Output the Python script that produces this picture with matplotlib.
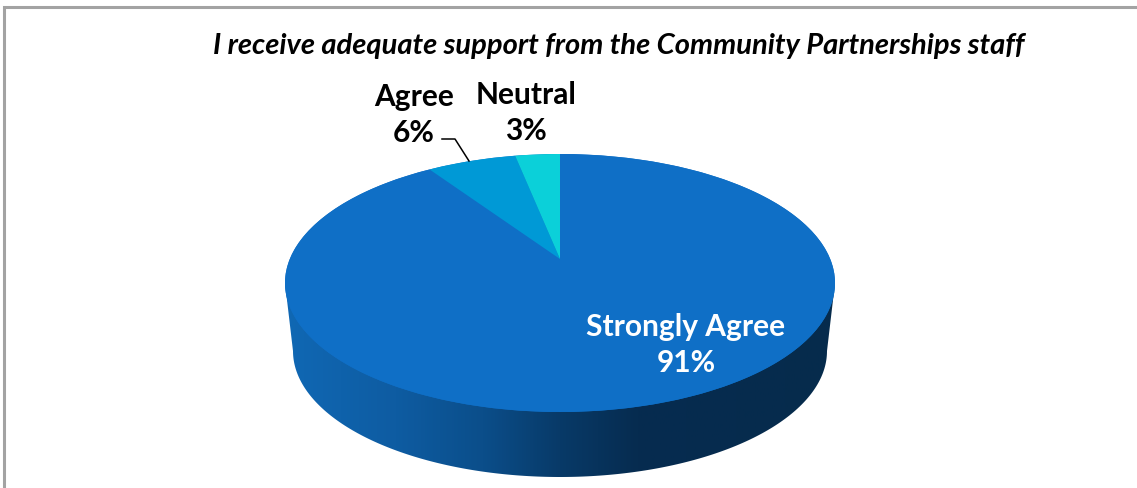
import numpy as np
import matplotlib.pyplot as plt
from matplotlib.colors import LinearSegmentedColormap
from matplotlib.patches import Ellipse, PathPatch, Polygon
from matplotlib.path import Path

title = 'I receive adequate support from the Community Partnerships staff'
categories = ['Strongly Agree', 'Agree', 'Neutral']
percents = [91, 6, 3]
colors = ['#0F6FC6', '#0099D6', '#0BD0D9']

# geometry of the tilted disc, in pixels
cx, cy, rx, ry = 560, 284, 275, 129
base_cy, base_rx, base_ry = 352, 267, 126
apex_y = 260
tilt = 0.14

plt.rcParams['font.family'] = ['Lato', 'DejaVu Sans']

fig = plt.figure(figsize=(11.37, 4.89), dpi=100)
ax = fig.add_axes([0, 0, 1, 1])


def project(angle):
    # circle angle (clockwise from 12 o'clock) to pixel position, with perspective
    x, y = np.sin(angle), np.cos(angle)
    w = 1 + tilt * y
    u = x * np.sqrt(1 - tilt ** 2) / w
    v = (y + tilt) / w
    return cx + rx * u, cy - ry * v


# side wall with a horizontal gradient
t = np.linspace(0, np.pi, 200)
wall_pts = [(cx - rx, cy)]
wall_pts += list(zip(cx - base_rx * np.cos(t), base_cy + base_ry * np.sin(t)))
wall_pts += [(cx + rx, cy)]
wall_path = Path(wall_pts + [wall_pts[0]], closed=True)
wall_cmap = LinearSegmentedColormap.from_list('wall', [
    (0.0, '#1068B4'), (0.2, '#0E5CA2'), (0.36, '#0B4E8A'),
    (0.5, '#083A68'), (0.64, '#062C50'), (1.0, '#062B4C')])
grad = np.linspace(0, 1, 256).reshape(1, -1)
img = ax.imshow(grad, cmap=wall_cmap, extent=(cx - rx, cx + rx, 489, 0),
                aspect='auto', zorder=1)
clip = PathPatch(wall_path, transform=ax.transData, fc='none', ec='none')
ax.add_patch(clip)
img.set_clip_path(clip)

ax.set_xlim(0, 1137)
ax.set_ylim(489, 0)
ax.axis('off')

# top of the disc, slices run clockwise from 12 o'clock
ax.add_patch(Ellipse((cx, cy), 2 * rx, 2 * ry, fc=colors[0], ec='none', zorder=2))
start = 0.0
for pct, col in zip(percents, colors):
    end = start + pct / sum(percents) * 2 * np.pi
    a = np.linspace(start, end, 200)
    px, py = project(a)
    pts = np.column_stack([np.r_[cx, px], np.r_[apex_y, py]])
    ax.add_patch(Polygon(pts, closed=True, fc=col, ec='none', zorder=3))
    start = end

# outer frame, only top and left are visible
ax.plot([4, 4, 1137], [489, 8, 8], color='#A3A3A3', lw=2.2, solid_joinstyle='miter', zorder=1)

ax.text(619, 46, title, ha='center', va='center', fontsize=21,
        fontweight='bold', fontstyle='italic', color='black', zorder=5)

label_style = dict(ha='center', va='center', fontsize=21.5, fontweight='bold',
                   linespacing=1.34, zorder=5)
ax.text(686, 345, f'{categories[0]}\n{percents[0]}%', color='white', **label_style)
ax.text(414, 115, f'{categories[1]}\n{percents[1]}%', color='black', **label_style)
ax.text(526, 113, f'{categories[2]}\n{percents[2]}%', color='black', **label_style)

# leader line for the Agree label
ax.plot([442, 455, 469], [140, 140, 162], color='black', lw=1.1, zorder=5)

fig.savefig('out.png', dpi=100)
